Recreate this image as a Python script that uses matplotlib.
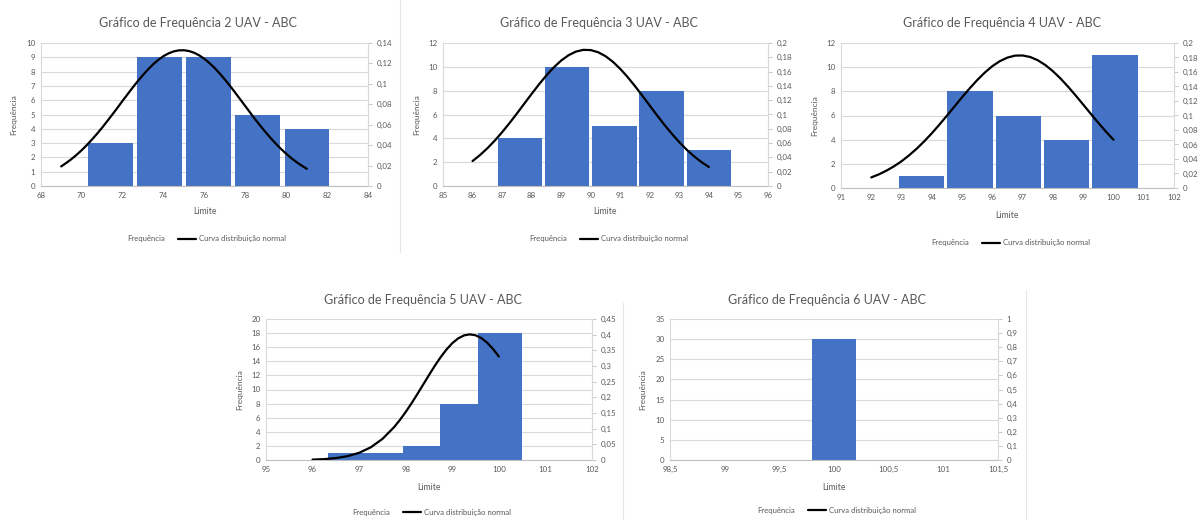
import matplotlib.pyplot as plt
from matplotlib.lines import Line2D
from matplotlib.ticker import FuncFormatter, MultipleLocator

plt.rcParams['font.family'] = ['Lato', 'DejaVu Sans']

W, H = 1198, 520
AZUL = '#4472C4'
CINZA = '#595959'

# UAV 2
lim2 = [71.4, 73.8, 76.2, 78.6, 81.0]
freq2 = [3, 9, 9, 5, 4]
curva2_x = [69, 69.25, 69.5, 69.75, 70, 70.25, 70.5, 70.75, 71, 71.25, 71.5,
            71.75, 72, 72.25, 72.5, 72.75, 73, 73.25, 73.5, 73.75, 74, 74.25,
            74.5, 74.75, 75, 75.25, 75.5, 75.75, 76, 76.25, 76.5, 76.75, 77,
            77.25, 77.5, 77.75, 78, 78.25, 78.5, 78.75, 79, 79.25, 79.5,
            79.75, 80, 80.25, 80.5, 80.75, 81]
curva2_y = [0.0192, 0.0226, 0.0263, 0.0305, 0.0350, 0.0400, 0.0454, 0.0511,
            0.0571, 0.0635, 0.0700, 0.0766, 0.0834, 0.0900, 0.0966, 0.1029,
            0.1088, 0.1143, 0.1193, 0.1236, 0.1272, 0.1299, 0.1318, 0.1328,
            0.1329, 0.1321, 0.1304, 0.1278, 0.1244, 0.1202, 0.1154, 0.1100,
            0.1041, 0.0979, 0.0914, 0.0847, 0.0780, 0.0713, 0.0647, 0.0584,
            0.0523, 0.0465, 0.0411, 0.0360, 0.0314, 0.0271, 0.0233, 0.0199,
            0.0168]

# UAV 3
lim3 = [87.6, 89.2, 90.8, 92.4, 94.0]
freq3 = [4, 10, 5, 8, 3]
curva3_x = [86, 86.25, 86.5, 86.75, 87, 87.25, 87.5, 87.75, 88, 88.25, 88.5,
            88.75, 89, 89.25, 89.5, 89.75, 90, 90.25, 90.5, 90.75, 91, 91.25,
            91.5, 91.75, 92, 92.25, 92.5, 92.75, 93, 93.25, 93.5, 93.75, 94]
curva3_y = [0.0349, 0.0432, 0.0527, 0.0634, 0.0752, 0.0879, 0.1013, 0.1151,
            0.1288, 0.1422, 0.1547, 0.1659, 0.1755, 0.1829, 0.1880, 0.1904,
            0.1901, 0.1871, 0.1816, 0.1737, 0.1638, 0.1523, 0.1396, 0.1261,
            0.1123, 0.0986, 0.0853, 0.0728, 0.0612, 0.0507, 0.0415, 0.0334,
            0.0266]

# UAV 4
lim4 = [93.67, 95.26, 96.85, 98.45, 100.05]
freq4 = [1, 8, 6, 4, 11]
curva4_x = [92, 92.25, 92.5, 92.75, 93, 93.25, 93.5, 93.75, 94, 94.25, 94.5,
            94.75, 95, 95.25, 95.5, 95.75, 96, 96.25, 96.5, 96.75, 97, 97.25,
            97.5, 97.75, 98, 98.25, 98.5, 98.75, 99, 99.25, 99.5, 99.75, 100]
curva4_y = [0.0146, 0.0188, 0.0239, 0.0299, 0.0369, 0.0451, 0.0542, 0.0644,
            0.0755, 0.0874, 0.0998, 0.1125, 0.1252, 0.1374, 0.1489, 0.1592,
            0.1681, 0.1750, 0.1799, 0.1826, 0.1828, 0.1807, 0.1762, 0.1696,
            0.1611, 0.1511, 0.1398, 0.1277, 0.1151, 0.1024, 0.0899, 0.0779,
            0.0666]

# UAV 5
lim5 = [96.81, 97.61, 98.42, 99.22, 100.03]
freq5 = [1, 1, 2, 8, 18]
curva5_x = [96, 96.25, 96.5, 96.75, 97, 97.25, 97.5, 97.75, 97.875, 98,
            98.125, 98.25, 98.375, 98.5, 98.625, 98.75, 98.875, 99, 99.125,
            99.25, 99.375, 99.5, 99.625, 99.75, 99.875, 100]
curva5_y = [0.0013, 0.0028, 0.0061, 0.0122, 0.0229, 0.0405, 0.0673, 0.1048,
            0.1278, 0.1533, 0.1810, 0.2104, 0.2408, 0.2712, 0.3007, 0.3281,
            0.3526, 0.3728, 0.3880, 0.3976, 0.4010, 0.3981, 0.3890, 0.3742,
            0.3543, 0.3303]

# UAV 6 (todos os valores iguais, curva sem pontos)
lim6 = [100]
freq6 = [30]
curva6_x = []
curva6_y = []


def virgula(v, pos):
    return f'{round(v, 4):g}'.replace('.', ',')


def px(x, y):
    return x / W, 1 - y / H


fig = plt.figure(figsize=(W / 100, H / 100), dpi=100)


def grafico(n, caixa, lim, freq, largura, cx, cy, xlim, xpasso, ylim, ypasso,
            y2lim, y2passo, titulo_x, titulo_y, ylab_x, xlab_y, leg_x, leg_y):
    l, b = px(caixa[0], caixa[3])
    ax = fig.add_axes([l, b, (caixa[2] - caixa[0]) / W, (caixa[3] - caixa[1]) / H])
    barras = ax.bar(lim, freq, width=largura, color=AZUL, zorder=2,
                    label='Frequência')
    ax.set_xlim(*xlim)
    ax.set_ylim(*ylim)
    ax.xaxis.set_major_locator(MultipleLocator(xpasso))
    ax.yaxis.set_major_locator(MultipleLocator(ypasso))
    ax.xaxis.set_major_formatter(FuncFormatter(virgula))
    ax.yaxis.set_major_formatter(FuncFormatter(virgula))
    ax.yaxis.grid(True, color='#D9D9D9', lw=0.8)
    ax.set_axisbelow(True)
    ax.tick_params(length=0, labelsize=5.7, labelcolor=CINZA, pad=4)
    for s in ('top', 'right'):
        ax.spines[s].set_visible(False)
    ax.spines['left'].set_color('#D9D9D9')
    ax.spines['bottom'].set_color('#BFBFBF')

    ax2 = ax.twinx()
    linha, = ax2.plot(cx, cy, color='black', lw=1.6, solid_joinstyle='round',
                      solid_capstyle='round', label='Curva distribuição normal')
    ax2.set_ylim(*y2lim)
    ax2.yaxis.set_major_locator(MultipleLocator(y2passo))
    ax2.yaxis.set_major_formatter(FuncFormatter(virgula))
    ax2.tick_params(length=3, width=0.6, color='#BFBFBF', labelsize=5.7,
                    labelcolor=CINZA, pad=3)
    for s in ('top', 'left', 'bottom'):
        ax2.spines[s].set_visible(False)
    ax2.spines['right'].set_color('#D9D9D9')

    fig.text(*px(titulo_x, titulo_y), f'Gráfico de Frequência {n} UAV - ABC',
             ha='center', va='center', fontsize=9, color=CINZA)
    fig.text(*px(ylab_x, (caixa[1] + caixa[3]) / 2), 'Frequência',
             rotation=90, ha='center', va='center', fontsize=6, color=CINZA)
    fig.text(*px((caixa[0] + caixa[2]) / 2, xlab_y), 'Limite',
             ha='center', va='center', fontsize=6.2, color=CINZA)
    leg = fig.legend([barras, linha], ['Frequência', 'Curva distribuição normal'],
                     loc='center', bbox_to_anchor=px(leg_x, leg_y), ncol=2,
                     frameon=False, fontsize=5.6, handlelength=2.4,
                     handletextpad=0.3, columnspacing=1.6, labelcolor=CINZA)
    leg.legend_handles[0].set_visible(False)


grafico(2, (40.7, 43, 368.3, 186), lim2, freq2, 2.18, curva2_x, curva2_y,
        (68, 84), 2, (0, 10), 1, (0, 0.14), 0.02,
        198, 23, 14, 212, 196, 239)
grafico(3, (443, 43, 768, 186), lim3, freq3, 1.5, curva3_x, curva3_y,
        (85, 96), 1, (0, 12), 2, (0, 0.2), 0.02,
        599, 23, 417, 212, 598, 239)
grafico(4, (841, 43, 1174, 188), lim4, freq4, 1.49, curva4_x, curva4_y,
        (91, 102), 1, (0, 12), 2, (0, 0.2), 0.02,
        1002, 23, 815, 215, 1000, 243)
grafico(5, (266, 319, 592, 460), lim5, freq5, 0.95, curva5_x, curva5_y,
        (95, 102), 1, (0, 20), 2, (0, 0.45), 0.05,
        423, 300, 240, 487, 421, 512)
grafico(6, (670, 319, 998, 460), lim6, freq6, 0.4, curva6_x, curva6_y,
        (98.5, 101.5), 0.5, (0, 35), 5, (0, 1), 0.1,
        827, 300, 643, 487, 826, 510)

# divisões entre os quadros
for x0, y0, y1 in [(400, 0, 252), (623, 303, 520), (1026, 290, 520)]:
    fig.add_artist(Line2D([x0 / W, x0 / W], [1 - y0 / H, 1 - y1 / H],
                          transform=fig.transFigure, color='#E6E6E6', lw=0.8))

fig.savefig('out.png', dpi=100)
